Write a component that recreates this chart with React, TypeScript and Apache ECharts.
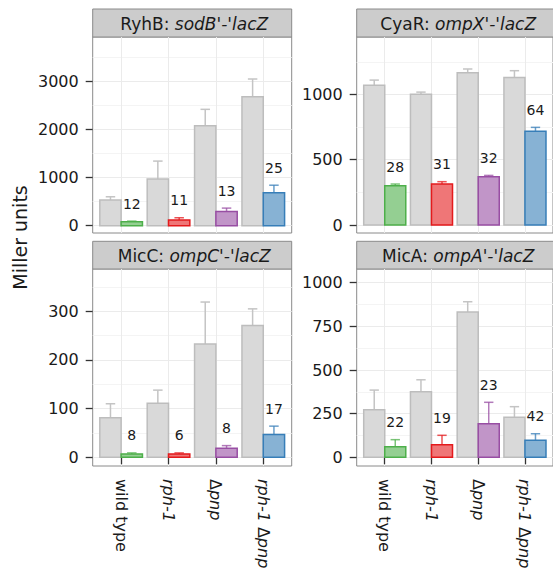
import React, { useEffect, useRef } from 'react';
import * as echarts from 'echarts';

// ---------- data ----------
const categories = ['wild type', 'rph-1', 'Δpnp', 'rph-1 Δpnp'];
const panelNames = ['RyhB', 'CyaR', 'MicC', 'MicA'];
const panelFusions = ["sodB'-'lacZ", "ompX'-'lacZ", "ompC'-'lacZ", "ompA'-'lacZ"];

// RyhB: sodB'-'lacZ
const ryhbControl = [533, 968, 2074, 2675];
const ryhbControlErr = [600, 1340, 2413, 3042];
const ryhbSrna = [80, 118, 295, 685];
const ryhbSrnaErr = [95, 165, 365, 840];
const ryhbPct = [12, 11, 13, 25];

// CyaR: ompX'-'lacZ
const cyarControl = [1070, 1001, 1166, 1130];
const cyarControlErr = [1110, 1018, 1195, 1182];
const cyarSrna = [301, 314, 370, 719];
const cyarSrnaErr = [314, 332, 380, 748];
const cyarPct = [28, 31, 32, 64];

// MicC: ompC'-'lacZ
const miccControl = [81, 111, 233, 271];
const miccControlErr = [110, 138, 319, 305];
const miccSrna = [7, 7, 18.5, 47];
const miccSrnaErr = [9, 9, 24, 64];
const miccPct = [8, 6, 8, 17];

// MicA: ompA'-'lacZ
const micaControl = [273, 376, 832, 229];
const micaControlErr = [385, 444, 891, 290];
const micaSrna = [61, 72, 192, 97];
const micaSrnaErr = [101, 126, 315, 135];
const micaPct = [22, 19, 23, 42];

// axis ticks / ranges
const ryhbTicks = [0, 1000, 2000, 3000];
const ryhbMinor = [500, 1500, 2500, 3500];
const cyarTicks = [0, 500, 1000];
const cyarMinor = [250, 750, 1250];
const miccTicks = [0, 100, 200, 300];
const miccMinor = [50, 150, 250, 350];
const micaTicks = [0, 250, 500, 750, 1000];
const micaMinor = [125, 375, 625, 875];
const yRanges = [
  [-151, 3913],
  [-61, 1440],
  [-17.9, 386.9],
  [-49.8, 1078.5],
];

const setBorder = ['#4daf4a', '#e41a1c', '#984ea3', '#377eb8'];
const setFill = ['#94cf92', '#ef7677', '#c195c8', '#87b2d4'];

// ---------- layout ----------
const FONT = '"DejaVu Sans", "Liberation Sans", sans-serif';
const PANEL_W = 199;
const panelBox = [
  { left: 92.7, top: 37, height: 196 },
  { left: 356.7, top: 37, height: 196 },
  { left: 92.7, top: 269, height: 197 },
  { left: 356.7, top: 269, height: 197 },
];
const stripBox = [
  { top: 9, height: 28 },
  { top: 9, height: 28 },
  { top: 241.3, height: 27.7 },
  { top: 241.3, height: 27.7 },
];
const BAR_W = 0.45;
const CAP = 0.1;

const panels = [
  { control: ryhbControl, controlErr: ryhbControlErr, srna: ryhbSrna, srnaErr: ryhbSrnaErr, pct: ryhbPct, ticks: ryhbTicks, minor: ryhbMinor },
  { control: cyarControl, controlErr: cyarControlErr, srna: cyarSrna, srnaErr: cyarSrnaErr, pct: cyarPct, ticks: cyarTicks, minor: cyarMinor },
  { control: miccControl, controlErr: miccControlErr, srna: miccSrna, srnaErr: miccSrnaErr, pct: miccPct, ticks: miccTicks, minor: miccMinor },
  { control: micaControl, controlErr: micaControlErr, srna: micaSrna, srnaErr: micaSrnaErr, pct: micaPct, ticks: micaTicks, minor: micaMinor },
];

const richLabel = (s: string) => {
  if (s === 'wild type') return `{n|${s}}`;
  const parts = s.split('Δ');
  let out = '';
  parts.forEach((p, i) => {
    if (i > 0) out += '{n|Δ}';
    if (p) out += `{i|${p}}`;
  });
  return out;
};

const textColor = '#1a1a1a';

function buildOption() {
  const grid: any[] = [];
  const xAxis: any[] = [];
  const yAxis: any[] = [];
  const series: any[] = [];
  const graphic: any[] = [];

  panels.forEach((p, k) => {
    const box = panelBox[k];
    grid.push({
      left: box.left,
      top: box.top,
      width: PANEL_W,
      height: box.height,
      show: true,
      backgroundColor: '#ffffff',
      borderColor: '#8a8a8a',
      borderWidth: 1,
    });
    const bottomRow = k >= 2;
    xAxis.push({
      type: 'value',
      gridIndex: k,
      min: 0.4,
      max: 4.6,
      axisLine: { show: false },
      axisTick: {
        show: bottomRow,
        customValues: [1, 2, 3, 4],
        length: 7,
        lineStyle: { color: '#333', width: 1.3 },
      },
      axisLabel: {
        show: bottomRow,
        customValues: [1, 2, 3, 4],
        rotate: -90,
        margin: 13,
        formatter: (v: number) => richLabel(categories[Math.round(v) - 1] || ''),
        rich: {
          n: { fontFamily: FONT, fontSize: 16, color: textColor },
          i: { fontFamily: FONT, fontSize: 16, color: textColor, fontStyle: 'italic' },
        },
      },
      splitLine: { show: true, lineStyle: { color: '#ebebeb', width: 1 } },
    });
    const [ymin, ymax] = yRanges[k];
    // minor grid axis
    yAxis.push({
      type: 'value',
      gridIndex: k,
      min: ymin,
      max: ymax,
      position: 'left',
      axisLine: { show: false },
      axisTick: { show: false, customValues: p.minor },
      axisLabel: { show: false },
      splitLine: { show: true, lineStyle: { color: '#f4f4f4', width: 1 } },
    });
    // major axis
    yAxis.push({
      type: 'value',
      gridIndex: k,
      min: ymin,
      max: ymax,
      position: 'left',
      axisLine: { show: false },
      axisTick: {
        show: true,
        customValues: p.ticks,
        length: 7,
        lineStyle: { color: '#333', width: 1.3 },
      },
      axisLabel: {
        show: true,
        customValues: p.ticks,
        margin: 14,
        fontFamily: FONT,
        fontSize: 16,
        color: textColor,
        formatter: (v: number) => String(v),
      },
      splitLine: { show: true, lineStyle: { color: '#ebebeb', width: 1 } },
    });

    const data = categories.map((_, j) => [
      j + 1,
      p.control[j],
      p.controlErr[j],
      p.srna[j],
      p.srnaErr[j],
      p.pct[j],
      j,
    ]);

    series.push({
      type: 'custom',
      xAxisIndex: k,
      yAxisIndex: 2 * k + 1,
      data,
      encode: { x: 0, y: [1, 2, 3, 4] },
      renderItem: (params: any, api: any) => {
        const x = api.value(0);
        const g = api.value(1);
        const ge = api.value(2);
        const c = api.value(3);
        const ce = api.value(4);
        const pct = api.value(5);
        const ci = api.value(6);
        const rect = (x0: number, x1: number, v: number) => {
          const p0 = api.coord([x0, 0]);
          const p1 = api.coord([x1, v]);
          return { x: p0[0], y: p1[1], width: p1[0] - p0[0], height: p0[1] - p1[1] };
        };
        const err = (xc: number, v: number, top: number, color: string, opacity: number) => {
          const a = api.coord([xc, v]);
          const b = api.coord([xc, top]);
          const l = api.coord([xc - CAP, top]);
          const r = api.coord([xc + CAP, top]);
          const style = { stroke: color, lineWidth: 1.5, opacity };
          return [
            { type: 'line', shape: { x1: a[0], y1: a[1], x2: b[0], y2: b[1] }, style },
            { type: 'line', shape: { x1: l[0], y1: l[1], x2: r[0], y2: r[1] }, style },
          ];
        };
        const gx = x - BAR_W / 2;
        const cx = x + BAR_W / 2;
        const labelPos = api.coord([cx, ce]);
        return {
          type: 'group',
          children: [
            ...err(gx, g, ge, '#c4c4c4', 1),
            {
              type: 'rect',
              shape: rect(x - BAR_W, x, g),
              style: { fill: '#d9d9d9', stroke: '#bdbdbd', lineWidth: 1.5 },
            },
            ...err(cx, c, ce, setBorder[ci], 0.75),
            {
              type: 'rect',
              shape: rect(x, x + BAR_W, c),
              style: { fill: setFill[ci], stroke: setBorder[ci], lineWidth: 1.5 },
            },
            {
              type: 'text',
              x: labelPos[0],
              y: labelPos[1] - 17.5,
              style: {
                text: String(pct),
                fontFamily: FONT,
                fontSize: 14,
                fill: textColor,
                align: 'center',
                verticalAlign: 'middle',
              },
            },
          ],
        };
      },
    });

    const sb = stripBox[k];
    graphic.push({
      type: 'rect',
      shape: { x: box.left, y: sb.top, width: PANEL_W, height: sb.height },
      style: { fill: '#cccccc', stroke: '#8a8a8a', lineWidth: 1 },
    });
    graphic.push({
      type: 'text',
      x: box.left + PANEL_W / 2 + 2,
      y: sb.top + sb.height / 2 + 0.5,
      style: {
        text: `{n|${panelNames[k]}: }{i|${panelFusions[k]}}`,
        rich: {
          n: { fontFamily: FONT, fontSize: 17, fill: textColor },
          i: { fontFamily: FONT, fontSize: 17, fill: textColor, fontStyle: 'italic' },
        },
        align: 'center',
        verticalAlign: 'middle',
      },
    });
  });

  graphic.push({
    type: 'text',
    x: 19.7,
    y: 237.5,
    rotation: Math.PI / 2,
    style: {
      text: 'Miller units',
      fontFamily: FONT,
      fontSize: 19,
      fill: textColor,
      align: 'center',
      verticalAlign: 'middle',
    },
  });

  return {
    animation: false,
    backgroundColor: '#ffffff',
    grid,
    xAxis,
    yAxis,
    series,
    graphic,
  };
}

export default function App() {
  const ref = useRef<HTMLDivElement>(null);
  useEffect(() => {
    if (!ref.current) return;
    const chart = echarts.init(ref.current, undefined, { renderer: 'svg' });
    chart.setOption(buildOption() as any);
    return () => chart.dispose();
  }, []);
  return (
    <div
      ref={ref}
      style={{ position: 'fixed', left: 0, top: 0, width: 553, height: 576 }}
    />
  );
}
